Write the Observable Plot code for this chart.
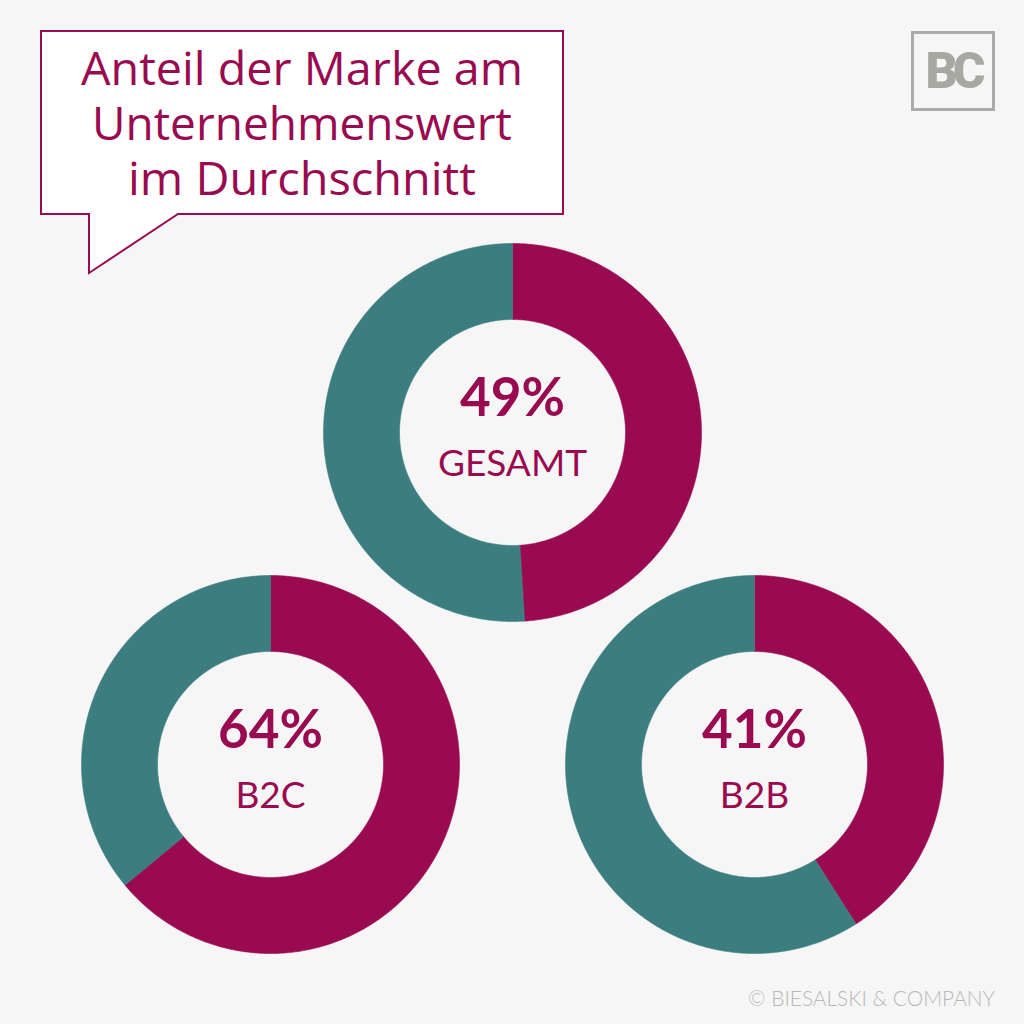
<!DOCTYPE html>
<html>
<head>
<meta charset="utf-8">
<script src="https://cdn.jsdelivr.net/npm/d3@7"></script>
<script src="https://cdn.jsdelivr.net/npm/@observablehq/plot@0.6"></script>
<style>
  html, body { margin: 0; padding: 0; background: #f6f6f6; }
  #wrap { position: relative; width: 1024px; height: 1024px; overflow: hidden; background: #f6f6f6; }
  #chart { position: absolute; left: 0; top: 0; }
  .overlay { position: absolute; left: 0; top: 0; pointer-events: none; }
</style>
</head>
<body>
<div id="wrap">
  <div id="chart"></div>
  <svg class="overlay" width="1024" height="1024" viewBox="0 0 1024 1024">
    <path d="M41,31 H563 V214 H178 L89,273 V214 H41 Z" fill="#ffffff" stroke="#990a50" stroke-width="2" stroke-linejoin="miter"/>
    <g font-family="'Open Sans', Lato, sans-serif" font-size="46" fill="#990a50" text-anchor="middle">
      <text x="302" y="85" textLength="442" lengthAdjust="spacingAndGlyphs">Anteil der Marke am</text>
      <text x="302" y="140" textLength="420" lengthAdjust="spacingAndGlyphs">Unternehmenswert</text>
      <text x="302" y="195" textLength="348" lengthAdjust="spacingAndGlyphs">im Durchschnitt</text>
    </g>
    <rect x="912.5" y="32.5" width="81" height="77" fill="none" stroke="#ababab" stroke-width="3"/>
    <text x="953" y="88" text-anchor="middle" font-family="Roboto, sans-serif" font-weight="900" font-size="50" letter-spacing="-5" fill="#a8a8a3">BC</text>
    <text x="995" y="1006" text-anchor="end" font-family="Lato, sans-serif" font-weight="300" font-size="21" fill="#b8b8b8" textLength="247" lengthAdjust="spacingAndGlyphs">© BIESALSKI &amp; COMPANY</text>
  </svg>
</div>
<script>
// ---- data ----
const categories = ["GESAMT", "B2C", "B2B"];
const markeShare = [49, 64, 41];            // Anteil der Marke (%)
const valueLabels = ["49%", "64%", "41%"];
const parts = ["Marke", "Rest"];

// ---- layout (pixel space) ----
const layout = {
  GESAMT: {cx: 512, cy: 432},
  B2C:    {cx: 270, cy: 764},
  B2B:    {cx: 754, cy: 764}
};
const R_OUT = 189, R_IN = 113;
const MAGENTA = "#990a50", TEAL = "#3c7d80";

// build ring-segment outlines from the shares
const ringPts = [];
categories.forEach((cat, i) => {
  const p = markeShare[i] / 100;
  const {cx, cy} = layout[cat];
  const segs = [[parts[0], 0, p], [parts[1], p, 1]];
  for (const [part, a0, a1] of segs) {
    const key = cat + "-" + part;
    const n = Math.max(2, Math.ceil((a1 - a0) * 720));
    const outer = d3.range(n + 1).map(k => a0 + (a1 - a0) * k / n);
    for (const t of outer) {
      const a = t * 2 * Math.PI;
      ringPts.push({key, part, x: cx + R_OUT * Math.sin(a), y: cy - R_OUT * Math.cos(a)});
    }
    for (const t of outer.slice().reverse()) {
      const a = t * 2 * Math.PI;
      ringPts.push({key, part, x: cx + R_IN * Math.sin(a), y: cy - R_IN * Math.cos(a)});
    }
  }
});

const centers = categories.map((cat, i) => ({
  cat, value: valueLabels[i], x: layout[cat].cx, y: layout[cat].cy
}));

const chart = Plot.plot({
  width: 1024,
  height: 1024,
  margin: 0,
  style: {background: "transparent", overflow: "visible"},
  x: {domain: [0, 1024], range: [0, 1024], axis: null},
  y: {domain: [0, 1024], range: [0, 1024], axis: null},
  color: {domain: parts, range: [MAGENTA, TEAL]},
  marks: [
    Plot.line(ringPts, {
      x: "x", y: "y", z: "key",
      fill: "part", stroke: "part", strokeWidth: 0.6,
      curve: "linear-closed"
    }),
    Plot.text(centers, {
      x: "x", y: "y", text: "value",
      lineAnchor: "bottom", dy: -17,
      fontSize: 53, fontWeight: "bold",
      fontFamily: "Lato, 'Open Sans', sans-serif",
      fill: MAGENTA
    }),
    Plot.text(centers, {
      x: "x", y: "y", text: "cat",
      lineAnchor: "bottom", dy: 43,
      fontSize: 37, fontWeight: "normal",
      fontFamily: "Lato, 'Open Sans', sans-serif",
      fill: MAGENTA
    })
  ]
});
document.getElementById("chart").appendChild(chart);
</script>
</body>
</html>
